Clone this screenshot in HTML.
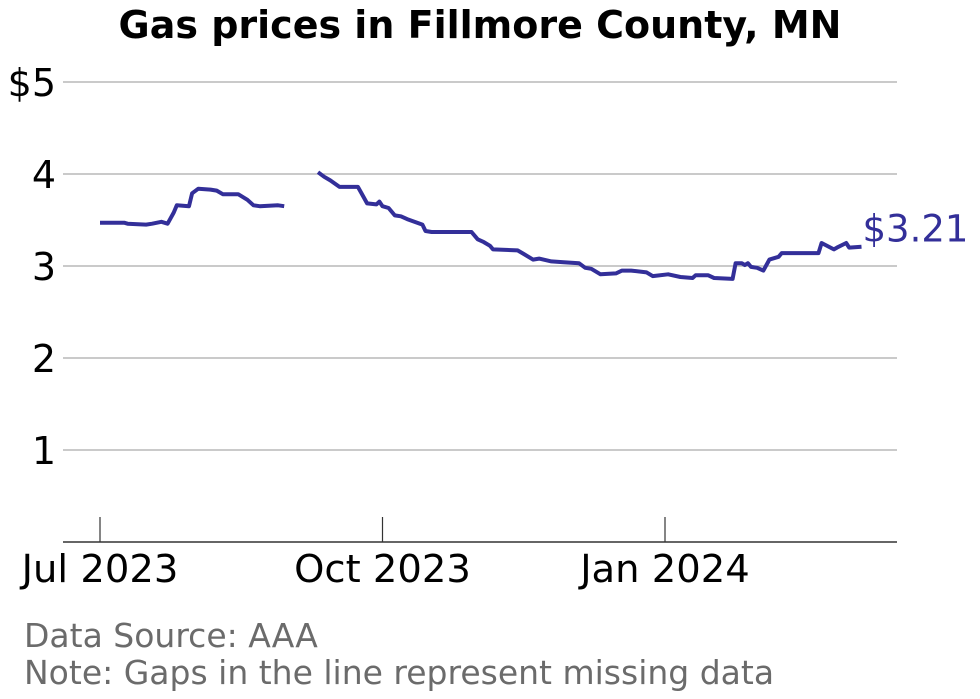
<!DOCTYPE html>
<html><head><meta charset="utf-8"><style>
body{margin:0;background:#fff;font-family:"DejaVu Sans","Liberation Sans",sans-serif}
svg{display:block}
</style></head><body>
<svg id="chart" width="980" height="699" viewBox="0 0 980 699">
<text x="480" y="38" text-anchor="middle" font-size="38" font-weight="bold" fill="#000">Gas prices in Fillmore County, MN</text>
<g id="grid"></g>
<g id="yticks"></g>
<g id="xticks"></g>
<path id="line" fill="none" stroke="#332f99" stroke-width="4" stroke-linejoin="round"/>
<text id="lastlabel" font-size="37" fill="#332f99"></text>
<text x="24" y="647" font-size="33" fill="#6b6b6b">Data Source: AAA</text>
<text x="24" y="684" font-size="33" fill="#6b6b6b">Note: Gaps in the line represent missing data</text>
</svg>
<script>
// days since 2023-07-01; null marks a gap
const days = [0,8,9,15,17,20,22,24,25,29,30,32,36,38,40,45,48,50,52,58,60,null,
71,73,75,78,84,85,87,90,91,92,94,96,98,100,105,106,108,121,123,125,127,128,136,138,141,143,147,151,156,158,160,163,168,170,173,178,180,185,189,193,194,198,200,206,207,209,210,211,212,214,216,218,221,222,234,235,239,240,243,244,248];
const prices = [3.47,3.47,3.46,3.45,3.46,3.48,3.46,3.58,3.66,3.65,3.79,3.84,3.83,3.82,3.78,3.78,3.72,3.66,3.65,3.66,3.65,null,
4.02,3.97,3.93,3.86,3.86,3.80,3.68,3.67,3.70,3.65,3.63,3.55,3.54,3.51,3.45,3.38,3.37,3.37,3.29,3.26,3.22,3.18,3.17,3.13,3.07,3.08,3.05,3.04,3.03,2.98,2.97,2.91,2.92,2.95,2.95,2.93,2.89,2.91,2.88,2.87,2.90,2.90,2.87,2.86,3.03,3.03,3.01,3.03,2.99,2.98,2.95,3.07,3.10,3.14,3.14,3.25,3.18,3.20,3.25,3.20,3.21];
const yTicks = [1,2,3,4,5];
const yTickLabels = ["1","2","3","4","$5"];
const xTickDays = [0,92,184];
const xTickLabels = ["Jul 2023","Oct 2023","Jan 2024"];

const NS="http://www.w3.org/2000/svg";
const x = d => 100 + d*(565/184);
const y = v => 542 - v*92;
function mk(tag, attrs, parent){const e=document.createElementNS(NS,tag);for(const k in attrs)e.setAttribute(k,attrs[k]);parent.appendChild(e);return e;}
const grid=document.getElementById('grid'), yt=document.getElementById('yticks'), xt=document.getElementById('xticks');
yTicks.forEach((t,i)=>{
  const l=mk('line',{x1:63,x2:897,y1:y(t),y2:y(t),stroke:'#aaa','stroke-width':1.2},grid);
  
  
  const tx=mk('text',{x:56,y:y(t)+14,'text-anchor':'end','font-size':38,fill:'#000'},yt);
  
  
  tx.textContent=yTickLabels[i];
});
const ax=mk('line',{x1:63,x2:897,y1:542,y2:542,stroke:'#333','stroke-width':1.5},xt);


xTickDays.forEach((d,i)=>{
  const t=mk('line',{x1:x(d),x2:x(d),y1:517,y2:542,stroke:'#333','stroke-width':1.2},xt);
  
  
  const tx=mk('text',{x:x(d),y:582,'text-anchor':'middle','font-size':38.5,fill:'#000'},xt);
  
  
  tx.textContent=xTickLabels[i];
});
let dstr='', pen=false;
days.forEach((d,i)=>{
  if(d===null||prices[i]===null){pen=false;return;}
  dstr+=(pen?'L':'M')+x(d).toFixed(1)+','+y(prices[i]).toFixed(1);pen=true;
});
document.getElementById('line').setAttribute('d',dstr);
const li=days.length-1, lbl=document.getElementById('lastlabel');
lbl.setAttribute('x',x(days[li])+1);
lbl.setAttribute('y',y(prices[li])-5);
lbl.textContent='$'+prices[li].toFixed(2);
</script>
</body></html>
